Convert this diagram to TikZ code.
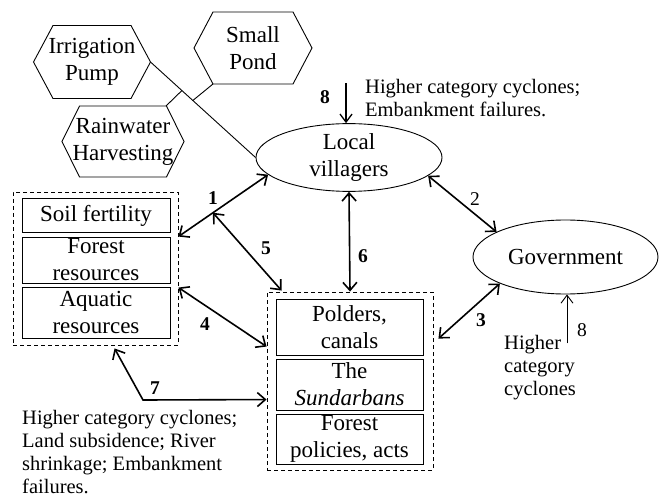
\documentclass[tikz,border=0pt]{standalone}
\usepackage{fontspec}
\setmainfont{Liberation Serif}
\usetikzlibrary{arrows.meta,shapes.geometric,calc}
\begin{document}
\begin{tikzpicture}[x=1pt,y=-1pt,
  every node/.style={font=\fontsize{23}{27}\selectfont, inner sep=0pt},
  hexline/.style={draw, line width=0.9pt},
  ell/.style={draw, ellipse, line width=0.9pt, align=center},
  ibox/.style={draw, line width=1pt, align=center},
  grp/.style={draw, line width=0.9pt, dash pattern=on 4pt off 3pt},
  thinl/.style={line width=0.9pt},
  dbl/.style={line width=1.6pt, {Straight Barb[length=8pt,width=14pt]}-{Straight Barb[length=8pt,width=14pt]}},
  sgl/.style={line width=0.9pt, -{Straight Barb[length=8pt,width=12pt]}},
  sglb/.style={line width=1.3pt, -{Straight Barb[length=8pt,width=12pt]}},
  ann/.style={font=\fontsize{20.5}{23}\selectfont, align=left},
  num/.style={font=\fontsize{19.5}{22}\selectfont\bfseries},
  numr/.style={font=\fontsize{19.5}{22}\selectfont}
]
\useasboundingbox (0,0) rectangle (661,497);

% hexagons
\node[align=center] (irr) at (92,62) {Irrigation\\Pump};
\draw[hexline] ($(irr)+(-58.5,0)$) -- ++(19.5,-36.5) -- ++(78,0) -- ++(19.5,36.5) -- ++(-19.5,36.5) -- ++(-78,0) -- cycle;
\coordinate (irrE) at ($(irr)+(58.5,0)$);

\node[align=center] (pond) at (253,48) {Small\\Pond};
\draw[hexline] ($(pond)+(-59,0)$) -- ++(19,-36) -- ++(80,0) -- ++(19,36) -- ++(-19,36) -- ++(-80,0) -- cycle;
\coordinate (pondSW) at ($(pond)+(-40,36)$);

\node[align=center] (rw) at (123,141.5) {Rainwater\\Harvesting};
\draw[hexline] ($(rw)+(-61,0)$) -- ++(17.5,-35.5) -- ++(87,0) -- ++(17.5,35.5) -- ++(-17.5,35.5) -- ++(-87,0) -- cycle;
\coordinate (rwNE) at ($(rw)+(43,-35.5)$);

% ellipses
\node[ell, minimum width=186pt, minimum height=62pt] (lv) at (349,157.5) {Local\\villagers};
\node[ell, minimum width=185pt, minimum height=74pt] (gov) at (565.5,257) {Government};

% hexagon links
\draw[thinl] (irrE) -- (lv.west);
\coordinate (b1) at ($(irrE)!0.299!(lv.west)$);
\coordinate (b2) at ($(irrE)!0.403!(lv.west)$);
\draw[thinl] (rwNE) -- (b1);
\draw[thinl] (pondSW) -- (b2);

% left group
\node[grp, minimum width=165pt, minimum height=153pt] (L) at (95.5,268.5) {};
\node[ibox, minimum width=148pt, minimum height=33pt] (soil) at (96,215.5) {Soil fertility};
\node[ibox, minimum width=148pt, minimum height=46pt] (forest) at (96,260) {Forest\\resources};
\node[ibox, minimum width=148pt, minimum height=51pt] (aqua) at (96,312.5) {Aquatic\\resources};

% right group
\node[grp, minimum width=166pt, minimum height=178pt] (R) at (350,381) {};
\node[ibox, minimum width=147pt, minimum height=56pt] (pold) at (349.5,327) {Polders,\\canals};
\node[ibox, minimum width=147pt, minimum height=51pt] (sund) at (349.5,384.5) {The\\\textit{Sundarbans}};
\node[ibox, minimum width=147pt, minimum height=50pt] (pol) at (349.5,439) {Forest\\policies, acts};

% arrows
\coordinate (a1s) at ($(L.north east)+(0,45)$);
\draw[dbl] (a1s) -- (lv.192);
\coordinate (a5s) at ($(a1s)!0.385!(lv.192)$);
\coordinate (a5e) at ($(R.north west)+(15,-1)$);
\draw[dbl] (a5s) -- (a5e);
\draw[dbl] (lv.347) -- (gov.160);
\draw[dbl] (lv.south) -- (R.north);
\coordinate (a3e) at ($(R.north east)+(5,47)$);
\draw[dbl] (gov.202) -- (a3e);
\coordinate (a4s) at ($(L.north east)+(0,96)$);
\coordinate (a4e) at ($(R.north west)+(0,55)$);
\draw[dbl] (a4s) -- (a4e);
\coordinate (a7s) at ($(L.south west)+(102,3)$);
\coordinate (a7c) at (143,400);
\coordinate (a7e) at ($(R.north west)+(0,108)$);
\draw[dbl] (a7s) -- (a7c) -- (a7e);

\coordinate (t8) at ($(lv.north)+(-3,-40)$);
\draw[sglb] (t8) -- ($(lv.north)+(-3,0)$);
\coordinate (b8) at ($(gov.south)+(1.5,49)$);
\draw[sgl] (b8) -- ($(gov.south)+(1.5,0)$);

% labels
\node[num] (n1) at (213,198) {1};
\node[numr] (n2) at (475,199) {2};
\node[num] (n3) at (481,320) {3};
\node[num] (n4) at (205,324) {4};
\node[num] (n5) at (266,248) {5};
\node[num] (n6) at (363,256) {6};
\node[num] (n7) at (155,388) {7};
\node[num] (n8a) at (325,97) {8};
\node[numr] (n8b) at (582,330) {8};

% annotations
\node[ann, anchor=west] (tA) at (365,98) {Higher category cyclones;\\Embankment failures.};
\node[ann, anchor=west] (tB) at (504,368) {Higher\\category\\cyclones};
\node[ann, anchor=west] (tC) at (22,452) {Higher category cyclones;\\Land subsidence; River\\shrinkage; Embankment\\failures.};
\end{tikzpicture}
\end{document}
